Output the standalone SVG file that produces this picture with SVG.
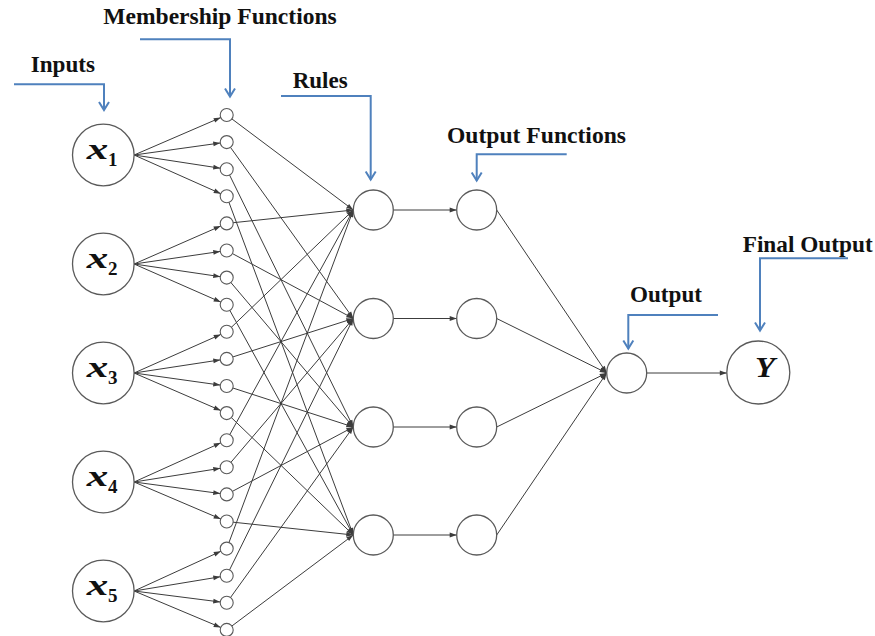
<svg xmlns="http://www.w3.org/2000/svg" width="875" height="636" viewBox="0 0 875 636">
<style>
.lbl{font-family:"Liberation Serif","Times New Roman",serif;font-weight:bold;font-size:23.5px;fill:#111}
.xv{font-family:"Liberation Serif","Times New Roman",serif;font-weight:bold;font-style:italic;font-size:29px;fill:#111}
.sub{font-family:"Liberation Serif","Times New Roman",serif;font-weight:bold;font-size:19px;fill:#111}
.big{fill:#fff;stroke:#5a5a5a;stroke-width:1.3}
.mf{fill:#fff;stroke:#5a5a5a;stroke-width:1.1}
.c line{stroke:#3c3c3c;stroke-width:1}
.c .a{marker-end:url(#ah)}
.c .m{marker-end:url(#ahm)}
.call{fill:none;stroke:#4f81bd;stroke-width:2;marker-end:url(#chev)}
</style>
<defs>
<marker id="ah" markerUnits="userSpaceOnUse" markerWidth="8" markerHeight="6" refX="7" refY="3" orient="auto" overflow="visible">
<path d="M0,0.6 L7,3 L0,5.4 z" fill="#3c3c3c"/>
</marker>
<marker id="ahm" markerUnits="userSpaceOnUse" markerWidth="8" markerHeight="6" refX="13.5" refY="3" orient="auto" overflow="visible">
<path d="M0,0.6 L7,3 L0,5.4 z" fill="#3c3c3c"/>
</marker>
<marker id="chev" markerUnits="userSpaceOnUse" markerWidth="10" markerHeight="12" refX="0" refY="0" orient="auto" overflow="visible">
<path d="M-8,-5 L0,0 L-8,5" fill="none" stroke="#4f81bd" stroke-width="2"/>
</marker>
</defs>
<rect width="875" height="636" fill="#fff"/>
<g id="connectors" class="c">
<!-- inputs to membership functions -->
<line class="m" x1="134.1" y1="155" x2="226.7" y2="115"/>
<line class="m" x1="134.1" y1="155" x2="226.7" y2="142.1"/>
<line class="m" x1="134.1" y1="155" x2="226.7" y2="169.2"/>
<line class="m" x1="134.1" y1="155" x2="226.7" y2="196.3"/>
<line class="m" x1="134.1" y1="264" x2="226.7" y2="223.4"/>
<line class="m" x1="134.1" y1="264" x2="226.7" y2="250.5"/>
<line class="m" x1="134.1" y1="264" x2="226.7" y2="277.6"/>
<line class="m" x1="134.1" y1="264" x2="226.7" y2="304.7"/>
<line class="m" x1="134.1" y1="373" x2="226.7" y2="331.8"/>
<line class="m" x1="134.1" y1="373" x2="226.7" y2="358.9"/>
<line class="m" x1="134.1" y1="373" x2="226.7" y2="386"/>
<line class="m" x1="134.1" y1="373" x2="226.7" y2="413.1"/>
<line class="m" x1="134.1" y1="482" x2="226.7" y2="440.2"/>
<line class="m" x1="134.1" y1="482" x2="226.7" y2="467.3"/>
<line class="m" x1="134.1" y1="482" x2="226.7" y2="494.4"/>
<line class="m" x1="134.1" y1="482" x2="226.7" y2="521.5"/>
<line class="m" x1="134.1" y1="591" x2="226.7" y2="548.6"/>
<line class="m" x1="134.1" y1="591" x2="226.7" y2="575.7"/>
<line class="m" x1="134.1" y1="591" x2="226.7" y2="602.8"/>
<line class="m" x1="134.1" y1="591" x2="226.7" y2="629.9"/>
<!-- membership functions to rules -->
<line class="a" x1="226.7" y1="115" x2="353.3" y2="210"/>
<line class="a" x1="226.7" y1="142.1" x2="353.3" y2="318.5"/>
<line class="a" x1="226.7" y1="169.2" x2="353.3" y2="427"/>
<line class="a" x1="226.7" y1="196.3" x2="353.3" y2="535"/>
<line class="a" x1="226.7" y1="223.4" x2="353.3" y2="210"/>
<line class="a" x1="226.7" y1="250.5" x2="353.3" y2="318.5"/>
<line class="a" x1="226.7" y1="277.6" x2="353.3" y2="427"/>
<line class="a" x1="226.7" y1="304.7" x2="353.3" y2="535"/>
<line class="a" x1="226.7" y1="331.8" x2="353.3" y2="210"/>
<line class="a" x1="226.7" y1="358.9" x2="353.3" y2="318.5"/>
<line class="a" x1="226.7" y1="386" x2="353.3" y2="427"/>
<line class="a" x1="226.7" y1="413.1" x2="353.3" y2="535"/>
<line class="a" x1="226.7" y1="440.2" x2="353.3" y2="210"/>
<line class="a" x1="226.7" y1="467.3" x2="353.3" y2="318.5"/>
<line class="a" x1="226.7" y1="494.4" x2="353.3" y2="427"/>
<line class="a" x1="226.7" y1="521.5" x2="353.3" y2="535"/>
<line class="a" x1="226.7" y1="548.6" x2="353.3" y2="210"/>
<line class="a" x1="226.7" y1="575.7" x2="353.3" y2="318.5"/>
<line class="a" x1="226.7" y1="602.8" x2="353.3" y2="427"/>
<line class="a" x1="226.7" y1="629.9" x2="353.3" y2="535"/>
<!-- rules to output functions -->
<line class="a" x1="393.3" y1="210" x2="456.7" y2="210"/>
<line class="a" x1="393.3" y1="318.5" x2="456.7" y2="318.5"/>
<line class="a" x1="393.3" y1="427" x2="456.7" y2="427"/>
<line class="a" x1="393.3" y1="535" x2="456.7" y2="535"/>
<!-- output functions to output -->
<line class="a" x1="496.7" y1="210" x2="606.7" y2="373"/>
<line class="a" x1="496.7" y1="318.5" x2="606.7" y2="373"/>
<line class="a" x1="496.7" y1="427" x2="606.7" y2="373"/>
<line class="a" x1="496.7" y1="535" x2="606.7" y2="373"/>
<!-- output to final -->
<line class="a" x1="646.7" y1="373" x2="726.8" y2="373"/>
</g>
<g id="inputs">
<g id="input-x1"><circle class="big" cx="103.3" cy="155" r="30.8"/><text class="xv" x="86.7" y="159.3" textLength="21.5" lengthAdjust="spacingAndGlyphs">x</text><text class="sub" x="108" y="165.7">1</text></g>
<g id="input-x2"><circle class="big" cx="103.3" cy="264" r="30.8"/><text class="xv" x="86.7" y="268.3" textLength="21.5" lengthAdjust="spacingAndGlyphs">x</text><text class="sub" x="108" y="274.7">2</text></g>
<g id="input-x3"><circle class="big" cx="103.3" cy="373" r="30.8"/><text class="xv" x="86.7" y="377.3" textLength="21.5" lengthAdjust="spacingAndGlyphs">x</text><text class="sub" x="108" y="383.7">3</text></g>
<g id="input-x4"><circle class="big" cx="103.3" cy="482" r="30.8"/><text class="xv" x="86.7" y="486.3" textLength="21.5" lengthAdjust="spacingAndGlyphs">x</text><text class="sub" x="108" y="492.7">4</text></g>
<g id="input-x5"><circle class="big" cx="103.3" cy="591" r="30.8"/><text class="xv" x="86.7" y="595.3" textLength="21.5" lengthAdjust="spacingAndGlyphs">x</text><text class="sub" x="108" y="601.7">5</text></g>
</g>
<g id="membership">
<g id="mf-1"><circle class="mf" cx="226.7" cy="115" r="6.5"/></g>
<g id="mf-2"><circle class="mf" cx="226.7" cy="142.1" r="6.5"/></g>
<g id="mf-3"><circle class="mf" cx="226.7" cy="169.2" r="6.5"/></g>
<g id="mf-4"><circle class="mf" cx="226.7" cy="196.3" r="6.5"/></g>
<g id="mf-5"><circle class="mf" cx="226.7" cy="223.4" r="6.5"/></g>
<g id="mf-6"><circle class="mf" cx="226.7" cy="250.5" r="6.5"/></g>
<g id="mf-7"><circle class="mf" cx="226.7" cy="277.6" r="6.5"/></g>
<g id="mf-8"><circle class="mf" cx="226.7" cy="304.7" r="6.5"/></g>
<g id="mf-9"><circle class="mf" cx="226.7" cy="331.8" r="6.5"/></g>
<g id="mf-10"><circle class="mf" cx="226.7" cy="358.9" r="6.5"/></g>
<g id="mf-11"><circle class="mf" cx="226.7" cy="386" r="6.5"/></g>
<g id="mf-12"><circle class="mf" cx="226.7" cy="413.1" r="6.5"/></g>
<g id="mf-13"><circle class="mf" cx="226.7" cy="440.2" r="6.5"/></g>
<g id="mf-14"><circle class="mf" cx="226.7" cy="467.3" r="6.5"/></g>
<g id="mf-15"><circle class="mf" cx="226.7" cy="494.4" r="6.5"/></g>
<g id="mf-16"><circle class="mf" cx="226.7" cy="521.5" r="6.5"/></g>
<g id="mf-17"><circle class="mf" cx="226.7" cy="548.6" r="6.5"/></g>
<g id="mf-18"><circle class="mf" cx="226.7" cy="575.7" r="6.5"/></g>
<g id="mf-19"><circle class="mf" cx="226.7" cy="602.8" r="6.5"/></g>
<g id="mf-20"><circle class="mf" cx="226.7" cy="629.9" r="6.5"/></g>
</g>
<g id="rules">
<g id="rule-1"><circle class="big" cx="373.3" cy="210" r="20"/></g>
<g id="rule-2"><circle class="big" cx="373.3" cy="318.5" r="20"/></g>
<g id="rule-3"><circle class="big" cx="373.3" cy="427" r="20"/></g>
<g id="rule-4"><circle class="big" cx="373.3" cy="535" r="20"/></g>
</g>
<g id="output-functions">
<g id="of-1"><circle class="big" cx="476.7" cy="210" r="20"/></g>
<g id="of-2"><circle class="big" cx="476.7" cy="318.5" r="20"/></g>
<g id="of-3"><circle class="big" cx="476.7" cy="427" r="20"/></g>
<g id="of-4"><circle class="big" cx="476.7" cy="535" r="20"/></g>
</g>
<g id="output"><circle class="big" cx="626.7" cy="373" r="20"/></g>
<g id="final-output"><circle class="big" cx="758.3" cy="372.5" r="31.5"/><text class="xv" x="755" y="376.7" font-size="26" textLength="20" lengthAdjust="spacingAndGlyphs">Y</text></g>
<g id="annotations">
<text class="lbl" x="30.7" y="71.7" textLength="64.3" lengthAdjust="spacingAndGlyphs">Inputs</text>
<path class="call" d="M14,84.3 H104 V110"/>
<text class="lbl" x="103.3" y="24.3" textLength="233.4" lengthAdjust="spacingAndGlyphs">Membership Functions</text>
<path class="call" d="M140,39.3 H230 V96.5"/>
<text class="lbl" x="292.7" y="87.7" textLength="55" lengthAdjust="spacingAndGlyphs">Rules</text>
<path class="call" d="M281,96 H370.7 V179.5"/>
<text class="lbl" x="447" y="143" textLength="179" lengthAdjust="spacingAndGlyphs">Output Functions</text>
<path class="call" d="M566.7,154.3 H476.7 V180.5"/>
<text class="lbl" x="630" y="301.7" textLength="72" lengthAdjust="spacingAndGlyphs">Output</text>
<path class="call" d="M718,315 H628.3 V348.5"/>
<text class="lbl" x="742.7" y="251.7" textLength="130" lengthAdjust="spacingAndGlyphs">Final Output</text>
<path class="call" d="M848,258.3 H760 V330.5"/>
</g>
</svg>
